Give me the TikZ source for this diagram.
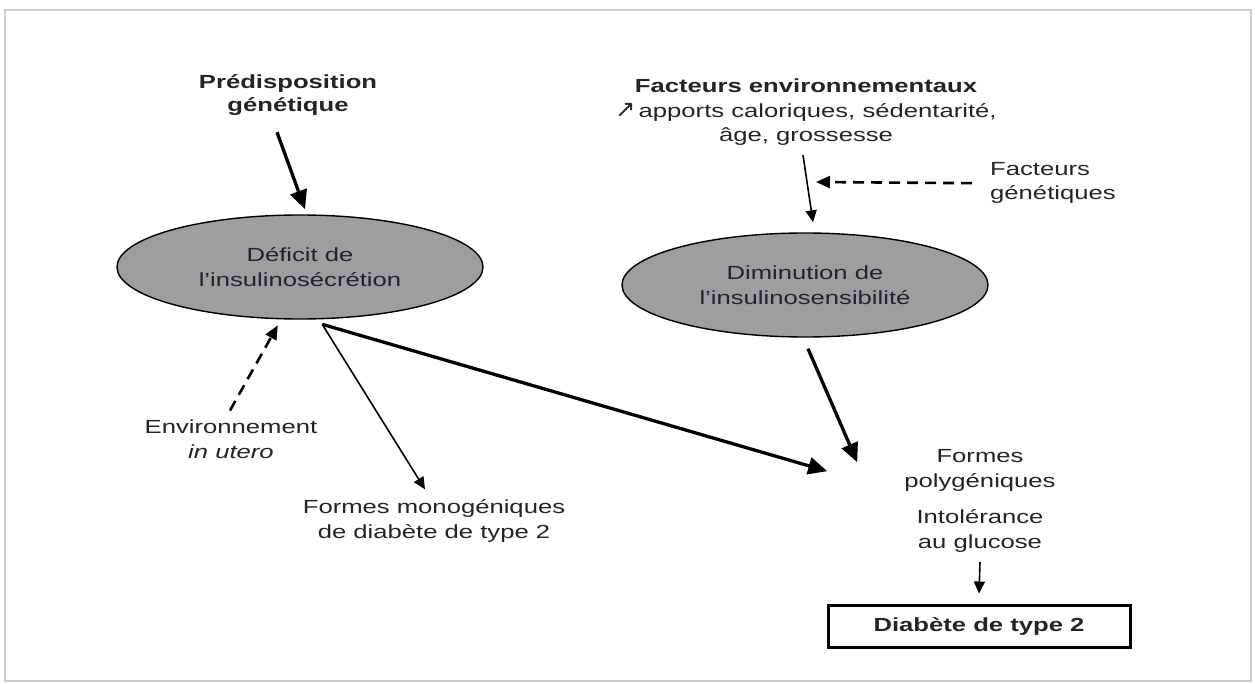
\documentclass[tikz,border=0pt]{standalone}
\usepackage{fontspec}
\setmainfont{Liberation Sans}[FakeStretch=1.35]
\newfontfamily\arrowfont{DejaVu Sans}
\usetikzlibrary{shapes.geometric,arrows.meta}
\definecolor{blobgray}{RGB}{158,158,161}
\definecolor{inkgray}{RGB}{35,35,40}
\definecolor{framegray}{RGB}{205,205,205}
\tikzset{
    every node/.style={inner sep=0pt, text=inkgray, align=center,
    	font=\fontsize{19}{24.5}\selectfont}
}
\tikzset{
    bold/.style={font=\fontsize{19}{24.5}\selectfont\bfseries},
    blob/.style={ellipse, draw=black, fill=blobgray, line width=1.4pt,
    	minimum width=366pt, minimum height=104pt},
    endbox/.style={rectangle, draw=black, line width=3pt,
    	minimum width=302pt, minimum height=42pt}
}
\tikzset{
    bigarrow/.style={line width=3.3pt, -{Triangle[length=19pt,width=17pt]}},
    thinarrow/.style={line width=1.6pt, -{Triangle[length=12pt,width=11pt]}},
    dasharrow/.style={line width=2.6pt, dash pattern=on 11pt off 7pt,
    	-{Triangle[length=14pt,width=12pt]}}
}

\begin{document}
\begin{tikzpicture}[x=1pt, y=-1pt]
  \useasboundingbox (0,0) rectangle (1255,684);
  \draw[framegray, line width=1.2pt] (5,10) rectangle (1251,681);

  % base = baseline of the last line
  \node (pred) [bold, font=\fontsize{19}{23}\selectfont\bfseries, anchor=base] at (288,112)
  	{Prédisposition\\génétique};
  \node (facenv) [anchor=base] at (806,142) {\textbf{Facteurs environnementaux}\\
  	{\arrowfont\fontsize{24}{24.5}\selectfont ↗}\,apports caloriques, sédentarité,\\âge, grossesse};
  \node (facgen) [anchor=base west, align=left] at (990,200) {Facteurs\\génétiques};

  \node (def) [blob] at (300,267) {Déficit de\\l'insulinosécrétion};
  \node (dim) [blob] at (805,285) {Diminution de\\l'insulinosensibilité};

  \node (env) [anchor=base] at (231,458) {Environnement\\\textit{in utero}};
  \node (mono) [anchor=base] at (434,538) {Formes monogéniques\\de diabète de type 2};
  \node (poly) [anchor=base] at (980,487) {Formes\\polygéniques};
  \node (intol) [anchor=base] at (980,548) {Intolérance\\au glucose};
  \node (dt2) [endbox, bold] at (979,626) {Diabète de type 2};

  \draw[bigarrow] ([xshift=-11pt,yshift=-16pt]pred.south) -- ([xshift=5pt,yshift=5pt]def.north);
  \draw[thinarrow] ([xshift=-3pt,yshift=-9pt]facenv.south) -- coordinate[pos=0.4] (gmid)
  	([xshift=8pt,yshift=10pt]dim.north);
  \draw[dasharrow] ([xshift=-18pt]facgen.west) -- ([xshift=9pt]gmid);
  \draw[dasharrow] ([xshift=-1pt,yshift=9pt]env.north) -- ([yshift=-6pt]def.247);
  \draw[thinarrow] ([yshift=-5pt]def.293) -- ([xshift=-9pt,yshift=10pt]mono.north);
  \draw[bigarrow] ([yshift=-5pt]def.293) -- ([xshift=-77pt,yshift=-1pt]poly.west);
  \draw[bigarrow] ([xshift=3pt,yshift=-11pt]dim.south) -- ([xshift=-47pt,yshift=-13pt]poly.north west);
  \draw[thinarrow] ([yshift=-10pt]intol.south) -- ([yshift=10pt]dt2.north);
\end{tikzpicture}
\end{document}
